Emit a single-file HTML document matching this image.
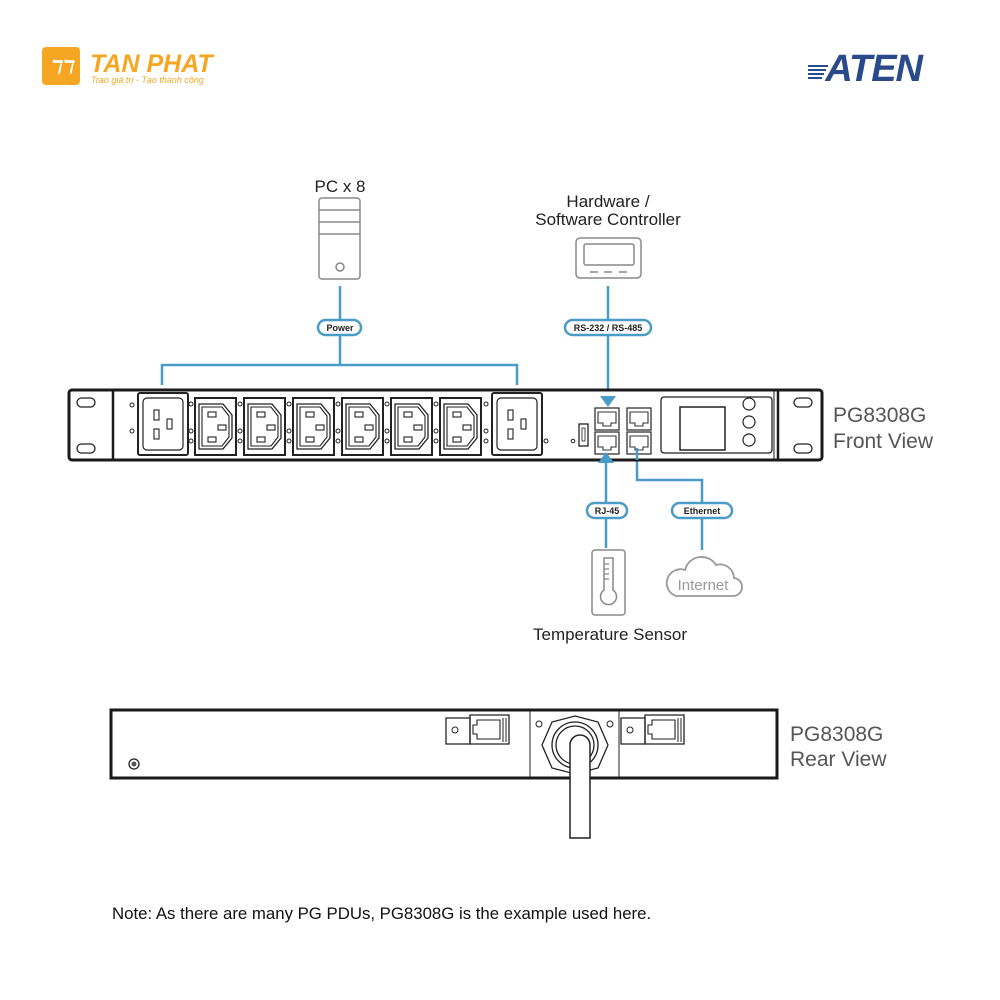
<!DOCTYPE html>
<html><head><meta charset="utf-8"><style>
html,body{margin:0;padding:0;background:#fff;}
svg{display:block;font-family:"Liberation Sans",Arial,sans-serif;}
</style></head><body>
<svg width="1000" height="1000" viewBox="0 0 1000 1000" xmlns="http://www.w3.org/2000/svg">
<defs>
<g id="c13">
<rect x="0" y="0" width="41" height="57" fill="#fff" stroke="#222" stroke-width="2"/>
<path d="M4,6 H28 L37,17 V40 L28,51 H4 Z" fill="none" stroke="#222" stroke-width="1.3"/>
<path d="M7,9 H27 L34,18 V39 L27,48 H7 Z" fill="none" stroke="#222" stroke-width="1.1"/>
<rect x="13" y="14" width="8" height="5" fill="none" stroke="#222" stroke-width="1.1"/>
<rect x="23" y="27" width="8" height="5" fill="none" stroke="#222" stroke-width="1.1"/>
<rect x="13" y="39" width="8" height="5" fill="none" stroke="#222" stroke-width="1.1"/>
</g>
<g id="c19">
<rect x="0" y="0" width="50" height="62" rx="2" fill="#fff" stroke="#222" stroke-width="2"/>
<rect x="5" y="5" width="40" height="52" rx="4" fill="none" stroke="#222" stroke-width="1.2"/>
<rect x="16" y="17" width="5" height="10" fill="none" stroke="#222" stroke-width="1.1"/>
<rect x="16" y="36" width="5" height="10" fill="none" stroke="#222" stroke-width="1.1"/>
<rect x="29" y="26" width="5" height="10" fill="none" stroke="#222" stroke-width="1.1"/>
</g>
<g id="rj">
<rect x="0" y="0" width="24" height="22" fill="#fff" stroke="#333" stroke-width="1.3"/>
<path d="M3,4 H21 V15 H16 V18 H8 V15 H3 Z" fill="none" stroke="#333" stroke-width="1.1"/>
</g>
<g id="dots">
<circle cx="0" cy="6" r="2" fill="none" stroke="#222" stroke-width="1"/>
<circle cx="0" cy="33" r="2" fill="none" stroke="#222" stroke-width="1"/>
<circle cx="0" cy="43" r="2" fill="none" stroke="#222" stroke-width="1"/>
</g>
</defs>

<!-- Tan Phat logo -->
<rect x="42" y="47" width="38" height="38" rx="4" fill="#f5a623"/>
<text x="61" y="73" font-size="18" font-style="italic" font-weight="bold" fill="#fff" text-anchor="middle">ℸℸ</text>
<text x="90" y="72" font-size="25" font-weight="bold" font-style="italic" fill="#f5a623">TAN PHAT</text>
<text x="91" y="83" font-size="9" font-style="italic" fill="#f5a623">Trao giá trị - Tạo thành công</text>

<!-- ATEN logo -->
<text x="922" y="81" font-size="38" font-weight="bold" font-style="italic" fill="#2a4a8a" text-anchor="end" letter-spacing="-1">ATEN</text>
<g fill="#2a4a8a"><rect x="808" y="65" width="20" height="2"/><rect x="808" y="69" width="18" height="2"/><rect x="808" y="73" width="16" height="2"/><rect x="808" y="77" width="14" height="2"/></g>

<!-- PC -->
<text x="340" y="192" font-size="17" text-anchor="middle" fill="#222">PC x 8</text>
<rect x="319" y="198" width="41" height="81" rx="3" fill="#fff" stroke="#888" stroke-width="1.5"/>
<line x1="319" y1="210" x2="360" y2="210" stroke="#888" stroke-width="1.5"/>
<line x1="319" y1="222" x2="360" y2="222" stroke="#888" stroke-width="1.5"/>
<line x1="319" y1="234" x2="360" y2="234" stroke="#888" stroke-width="1.5"/>
<circle cx="340" cy="267" r="4" fill="none" stroke="#888" stroke-width="1.5"/>

<!-- Controller -->
<text x="608" y="207" font-size="17" text-anchor="middle" fill="#222">Hardware /</text>
<text x="608" y="225" font-size="17" text-anchor="middle" fill="#222">Software Controller</text>
<rect x="576" y="238" width="65" height="40" rx="4" fill="#fff" stroke="#888" stroke-width="1.5"/>
<rect x="584" y="244" width="50" height="21" rx="2" fill="none" stroke="#888" stroke-width="1.5"/>
<g stroke="#888" stroke-width="1.5"><line x1="590" y1="272" x2="598" y2="272"/><line x1="604" y1="272" x2="612" y2="272"/><line x1="619" y1="272" x2="627" y2="272"/></g>

<!-- Blue connectors -->
<g stroke="#4a9cc8" stroke-width="2.5" fill="none">
<line x1="340" y1="286" x2="340" y2="365"/>
<polyline points="162,385 162,365 517,365 517,385"/>
<line x1="608" y1="286" x2="608" y2="396"/>
<line x1="606" y1="462" x2="606" y2="548"/>
<polyline points="637,455 637,480 702,480 702,550"/>
</g>

<g font-size="9" font-weight="bold" fill="#222" text-anchor="middle">
<rect x="318" y="320" width="43" height="15" rx="7.5" fill="#fff" stroke="#4a9cc8" stroke-width="2.5"/>
<text x="340" y="331">Power</text>
<rect x="565" y="320" width="86" height="15" rx="7.5" fill="#fff" stroke="#4a9cc8" stroke-width="2.5"/>
<text x="608" y="331">RS-232 / RS-485</text>
<rect x="587" y="503" width="40" height="15" rx="7.5" fill="#fff" stroke="#4a9cc8" stroke-width="2.5"/>
<text x="607" y="514">RJ-45</text>
<rect x="672" y="503" width="60" height="15" rx="7.5" fill="#fff" stroke="#4a9cc8" stroke-width="2.5"/>
<text x="702" y="514">Ethernet</text>
</g>

<!-- Front panel -->
<rect x="69" y="390" width="753" height="70" rx="3" fill="#fff" stroke="#1a1a1a" stroke-width="3"/>
<line x1="113" y1="390" x2="113" y2="460" stroke="#1a1a1a" stroke-width="2.5"/>
<line x1="778" y1="390" x2="778" y2="460" stroke="#1a1a1a" stroke-width="2.5"/>
<line x1="774" y1="390" x2="774" y2="460" stroke="#1a1a1a" stroke-width="1"/>
<rect x="77" y="398" width="18" height="9" rx="4.5" fill="none" stroke="#222" stroke-width="1.3"/>
<rect x="77" y="444" width="18" height="9" rx="4.5" fill="none" stroke="#222" stroke-width="1.3"/>
<rect x="794" y="398" width="18" height="9" rx="4.5" fill="none" stroke="#222" stroke-width="1.3"/>
<rect x="794" y="444" width="18" height="9" rx="4.5" fill="none" stroke="#222" stroke-width="1.3"/>

<circle cx="132" cy="405" r="2" fill="none" stroke="#222"/>
<circle cx="132" cy="431" r="2" fill="none" stroke="#222"/>
<use href="#c19" x="138" y="393"/>
<use href="#dots" x="191" y="398"/>
<use href="#c13" x="195" y="398"/>
<use href="#dots" x="240" y="398"/>
<use href="#c13" x="244" y="398"/>
<use href="#dots" x="289" y="398"/>
<use href="#c13" x="293" y="398"/>
<use href="#dots" x="338" y="398"/>
<use href="#c13" x="342" y="398"/>
<use href="#dots" x="387" y="398"/>
<use href="#c13" x="391" y="398"/>
<use href="#dots" x="436" y="398"/>
<use href="#c13" x="440" y="398"/>
<use href="#dots" x="486" y="398"/>
<use href="#c19" x="492" y="393"/>
<circle cx="546" cy="441" r="2" fill="none" stroke="#222"/>
<circle cx="573" cy="441" r="1.8" fill="none" stroke="#222"/>
<rect x="579" y="424" width="9" height="22" fill="none" stroke="#222" stroke-width="1.3"/>
<rect x="582" y="428" width="3" height="13" fill="none" stroke="#222" stroke-width="0.8"/>
<use href="#rj" x="595" y="408"/>
<use href="#rj" x="595" y="432"/>
<use href="#rj" x="627" y="408"/>
<use href="#rj" x="627" y="432"/>
<rect x="661" y="397" width="111" height="56" rx="3" fill="none" stroke="#222" stroke-width="1.3"/>
<rect x="680" y="407" width="45" height="43" fill="none" stroke="#222" stroke-width="1.5"/>
<circle cx="749" cy="404" r="6" fill="none" stroke="#222" stroke-width="1.2"/>
<circle cx="749" cy="422" r="6" fill="none" stroke="#222" stroke-width="1.2"/>
<circle cx="749" cy="440" r="6" fill="none" stroke="#222" stroke-width="1.2"/>

<!-- arrowheads on top of panel -->
<polygon points="600,396 616,396 608,407" fill="#4a9cc8"/>
<polygon points="598,463 614,463 606,452" fill="#4a9cc8"/>
<line x1="637" y1="448" x2="637" y2="460" stroke="#4a9cc8" stroke-width="2.5"/>

<text x="833" y="422" font-size="21" fill="#555">PG8308G</text>
<text x="833" y="448" font-size="21" fill="#555">Front View</text>

<!-- Thermometer -->
<rect x="592" y="550" width="33" height="65" rx="3" fill="#fff" stroke="#888" stroke-width="1.5"/>
<path d="M604,558 H613 V590 A8,8 0 1 1 604,590 Z" fill="none" stroke="#888" stroke-width="1.5"/>
<g stroke="#888" stroke-width="1.3"><line x1="604" y1="564" x2="609" y2="564"/><line x1="604" y1="569" x2="609" y2="569"/><line x1="604" y1="574" x2="609" y2="574"/><line x1="604" y1="579" x2="609" y2="579"/></g>
<text x="610" y="640" font-size="17" text-anchor="middle" fill="#222">Temperature Sensor</text>

<!-- Cloud -->
<path d="M676,596 H732 A9,9 0 0 0 734,578 A14,14 0 0 0 716,565 A17,17 0 0 0 685,570 A12,12 0 0 0 676,596 Z" fill="#fff" stroke="#999" stroke-width="1.8"/>
<text x="703" y="590" font-size="15" text-anchor="middle" fill="#999">Internet</text>

<!-- Rear panel -->
<rect x="111" y="710" width="666" height="68" fill="#fff" stroke="#1a1a1a" stroke-width="3"/>
<line x1="530" y1="710" x2="530" y2="778" stroke="#222" stroke-width="1"/>
<line x1="619" y1="710" x2="619" y2="778" stroke="#222" stroke-width="1"/>
<circle cx="134" cy="764" r="5" fill="none" stroke="#222" stroke-width="1.3"/>
<circle cx="134" cy="764" r="2.5" fill="#555"/>
<g id="latch">
<path d="M446,718 H470 V744 H446 Z" fill="none" stroke="#222" stroke-width="1.3"/>
<path d="M470,715 H509 V744 H470 Z" fill="none" stroke="#222" stroke-width="1.3"/>
<path d="M477,720 H500 V739 H477 V734 H473 V725 H477 Z" fill="none" stroke="#222" stroke-width="1.1"/>
<line x1="503" y1="718" x2="503" y2="742" stroke="#222"/>
<line x1="506" y1="718" x2="506" y2="742" stroke="#222"/>
<circle cx="455" cy="730" r="3" fill="none" stroke="#222"/>
</g>
<use href="#latch" x="175" y="0"/>
<circle cx="539" cy="724" r="3" fill="none" stroke="#222"/>
<circle cx="610" cy="724" r="3" fill="none" stroke="#222"/>
<path d="M575,716 L598,722 L608,745 L598,768 L575,774 L552,768 L542,745 L552,722 Z" fill="#fff" stroke="#222" stroke-width="1.3"/>
<circle cx="575" cy="745" r="23" fill="none" stroke="#222" stroke-width="1.3"/>
<circle cx="575" cy="745" r="19" fill="none" stroke="#222" stroke-width="1.3"/>
<path d="M570,838 V745 A10,10 0 0 1 590,745 V838 Z" fill="#fff" stroke="#222" stroke-width="1.5"/>
<text x="790" y="741" font-size="21" fill="#555">PG8308G</text>
<text x="790" y="766" font-size="21" fill="#555">Rear View</text>

<text x="112" y="919" font-size="16.8" fill="#111">Note: As there are many PG PDUs, PG8308G is the example used here.</text>
</svg>
</body></html>
